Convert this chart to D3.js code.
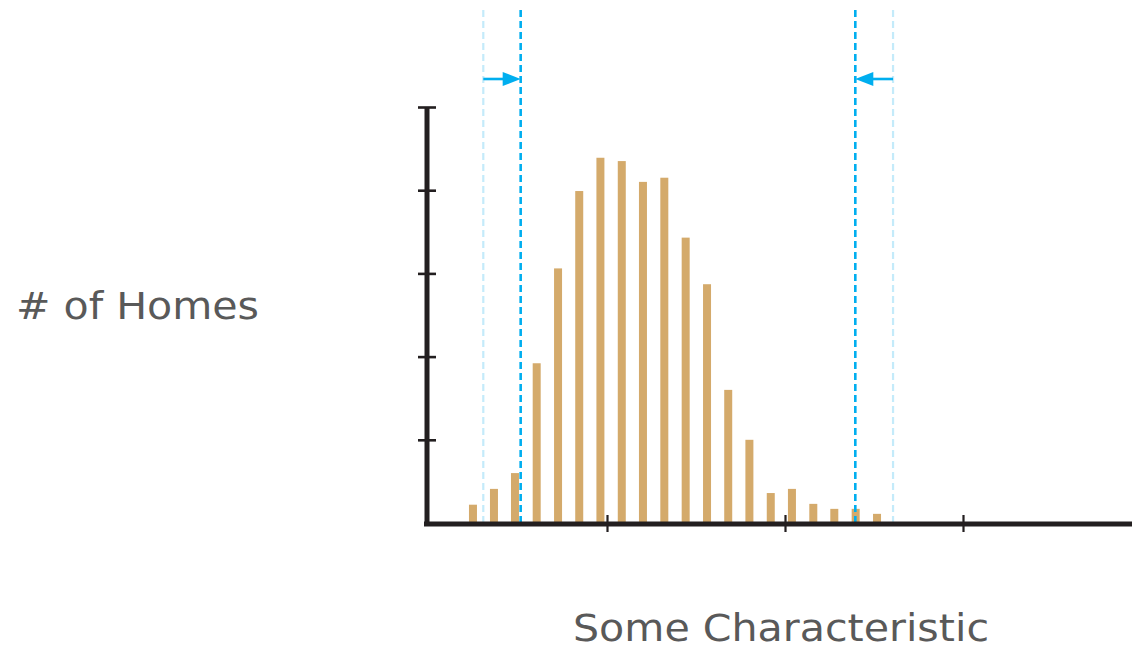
<!DOCTYPE html>
<html>
<head>
<meta charset="utf-8">
<script src="https://cdn.jsdelivr.net/npm/d3@7"></script>
<style>
  html, body { margin: 0; padding: 0; background: #ffffff; }
  svg { display: block; }
</style>
</head>
<body>
<svg id="chart" width="1132" height="653"></svg>
<script>
// ---- data ----
const binCenters = [2.47, 3.65, 4.83, 6.05, 7.25, 8.44, 9.63, 10.83, 12.02, 13.22,
                    14.42, 15.62, 16.81, 18.0, 19.2, 20.39, 21.59, 22.77, 23.97, 25.17];
const homeCounts = [4.4, 8.2, 12, 38.4, 61.2, 79.8, 87.8, 87, 82, 83,
                    68.6, 57.4, 32, 20, 7.2, 8.2, 4.6, 3.4, 3.4, 2.2];
const boundsBefore = [3.05, 26.07];   // light dashed lines (original cut-offs)
const boundsAfter = [5.15, 23.95];    // dark dashed lines (moved cut-offs)
const xTickValues = [10, 20, 30];
const yTickValues = [20, 40, 60, 80, 100];
const xLabel = "Some Characteristic";
const yLabel = "# of Homes";

// ---- layout ----
const svg = d3.select("#chart");
const x = d3.scaleLinear().domain([0, 40]).range([429, 1141]);
const y = d3.scaleLinear().domain([0, 100]).range([523, 107]);

const axisColor = "#231f20";
const barColor = "#d4aa6b";
const blueDark = "#00aeef";
const blueLight = "#c4ebfa";
const labelFont = "'DejaVu Sans', 'Noto Sans', sans-serif";

// bars
svg.append("g").selectAll("rect")
  .data(binCenters.map((c, i) => ({c, v: homeCounts[i]})))
  .join("rect")
  .attr("x", d => x(d.c) - 4)
  .attr("width", 8)
  .attr("y", d => y(d.v))
  .attr("height", d => y(0) - y(d.v))
  .attr("fill", barColor);

// dashed boundary lines
function vline(v, color, w) {
  svg.append("line")
    .attr("x1", x(v)).attr("x2", x(v))
    .attr("y1", 10).attr("y2", y(0))
    .attr("stroke", color)
    .attr("stroke-width", w)
    .attr("stroke-dasharray", "7,4");
}
boundsBefore.forEach(v => vline(v, blueLight, 2.2));
boundsAfter.forEach(v => vline(v, blueDark, 2.6));

// arrows
const arrowY = 79;
function arrow(from, to) {
  const x1 = x(from), x2 = x(to);
  const dir = Math.sign(x2 - x1);
  const headLen = 18, headHalf = 7;
  svg.append("line")
    .attr("x1", x1).attr("x2", x2 - dir * headLen + dir * 2)
    .attr("y1", arrowY).attr("y2", arrowY)
    .attr("stroke", blueDark).attr("stroke-width", 2.6);
  svg.append("path")
    .attr("d", `M${x2},${arrowY} L${x2 - dir * headLen},${arrowY - headHalf} L${x2 - dir * headLen},${arrowY + headHalf} Z`)
    .attr("fill", blueDark);
}
arrow(boundsBefore[0], boundsAfter[0]);
arrow(boundsBefore[1], boundsAfter[1]);

// x axis
const xAxisG = svg.append("g")
  .attr("transform", `translate(0,${y(0) + 1})`)
  .call(d3.axisBottom(x).tickValues(xTickValues).tickSize(8).tickSizeOuter(0).tickFormat(""));
xAxisG.select(".domain").attr("stroke", axisColor).attr("stroke-width", 5)
  .attr("d", `M424,0H1141`);
xAxisG.selectAll(".tick line").attr("stroke", axisColor).attr("stroke-width", 2.2).attr("y1", -9);

// y axis
const yAxisG = svg.append("g")
  .attr("transform", `translate(427,0)`)
  .call(d3.axisLeft(y).tickValues(yTickValues).tickSize(9).tickSizeOuter(0).tickFormat(""));
yAxisG.select(".domain").attr("stroke", axisColor).attr("stroke-width", 5)
  .attr("d", `M0,${y(100)}V${y(0) + 3}`);
yAxisG.selectAll(".tick line").attr("stroke", axisColor).attr("stroke-width", 2.6).attr("x1", 9);

// labels
svg.append("text")
  .attr("x", 16).attr("y", 319)
  .attr("font-family", labelFont)
  .attr("font-size", 37)
  .attr("fill", "#595959")
  .attr("textLength", 243)
  .attr("lengthAdjust", "spacingAndGlyphs")
  .text(yLabel);

svg.append("text")
  .attr("x", 573).attr("y", 641)
  .attr("font-family", labelFont)
  .attr("font-size", 37)
  .attr("fill", "#595959")
  .attr("textLength", 416)
  .attr("lengthAdjust", "spacingAndGlyphs")
  .text(xLabel);
</script>
</body>
</html>
